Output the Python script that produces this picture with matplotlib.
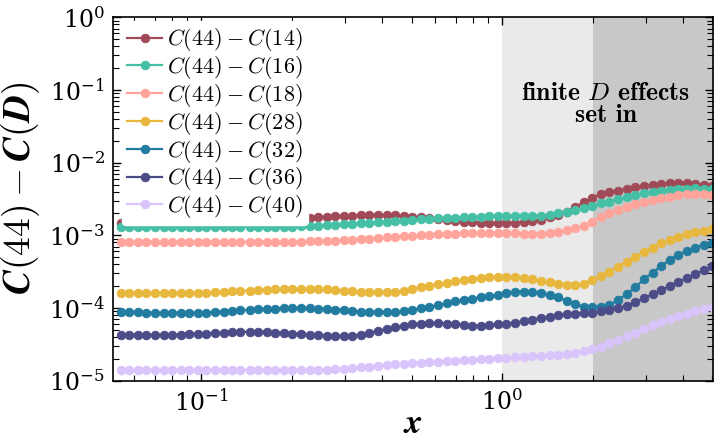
import numpy as np
import matplotlib
matplotlib.use('Agg')
import matplotlib.pyplot as plt
from matplotlib.font_manager import FontProperties
from matplotlib.mathtext import MathTextParser

plt.rcParams['mathtext.fontset'] = 'cm'
plt.rcParams['font.family'] = ['DejaVu Serif']

x_vals = [0.0540, 0.0577, 0.0616, 0.0657, 0.0702, 0.0750, 0.0800, 0.0855, 0.0913, 0.0975,
          0.104, 0.111, 0.119, 0.127, 0.135, 0.145, 0.154, 0.165, 0.176, 0.188,
          0.201, 0.214, 0.229, 0.244, 0.261, 0.279, 0.297, 0.318, 0.339, 0.362,
          0.387, 0.413, 0.441, 0.471, 0.503, 0.537, 0.573, 0.612, 0.654, 0.698,
          0.745, 0.796, 0.850, 0.907, 0.969, 1.03, 1.10, 1.18, 1.26, 1.35,
          1.44, 1.53, 1.64, 1.75, 1.87, 1.99, 2.13, 2.27, 2.43, 2.59,
          2.77, 2.96, 3.16, 3.37, 3.60, 3.84, 4.10, 4.38, 4.68, 5.00]

c14 = [1.50e-3, 1.51e-3, 1.52e-3, 1.53e-3, 1.54e-3, 1.55e-3, 1.56e-3, 1.57e-3, 1.58e-3, 1.59e-3,
       1.60e-3, 1.61e-3, 1.62e-3, 1.63e-3, 1.64e-3, 1.65e-3, 1.66e-3, 1.67e-3, 1.68e-3, 1.70e-3,
       1.71e-3, 1.72e-3, 1.74e-3, 1.76e-3, 1.79e-3, 1.82e-3, 1.85e-3, 1.87e-3, 1.89e-3, 1.90e-3,
       1.91e-3, 1.90e-3, 1.88e-3, 1.85e-3, 1.81e-3, 1.76e-3, 1.72e-3, 1.67e-3, 1.62e-3, 1.58e-3,
       1.55e-3, 1.52e-3, 1.50e-3, 1.48e-3, 1.47e-3, 1.47e-3, 1.49e-3, 1.52e-3, 1.56e-3, 1.65e-3,
       1.78e-3, 1.93e-3, 2.12e-3, 2.45e-3, 2.85e-3, 3.30e-3, 3.65e-3, 3.92e-3, 4.12e-3, 4.39e-3,
       4.68e-3, 4.78e-3, 4.94e-3, 5.09e-3, 5.21e-3, 5.21e-3, 5.21e-3, 5.09e-3, 4.94e-3, 4.78e-3]

c16 = [1.31e-3, 1.31e-3, 1.31e-3, 1.31e-3, 1.31e-3, 1.31e-3, 1.31e-3, 1.31e-3, 1.31e-3, 1.31e-3,
       1.31e-3, 1.31e-3, 1.31e-3, 1.31e-3, 1.31e-3, 1.31e-3, 1.31e-3, 1.31e-3, 1.31e-3, 1.31e-3,
       1.32e-3, 1.33e-3, 1.34e-3, 1.36e-3, 1.37e-3, 1.39e-3, 1.41e-3, 1.44e-3, 1.46e-3, 1.48e-3,
       1.51e-3, 1.54e-3, 1.57e-3, 1.60e-3, 1.63e-3, 1.66e-3, 1.69e-3, 1.71e-3, 1.73e-3, 1.75e-3,
       1.77e-3, 1.79e-3, 1.81e-3, 1.83e-3, 1.84e-3, 1.85e-3, 1.85e-3, 1.85e-3, 1.85e-3, 1.87e-3,
       1.91e-3, 2.00e-3, 2.12e-3, 2.24e-3, 2.36e-3, 2.56e-3, 2.77e-3, 2.91e-3, 3.14e-3, 3.34e-3,
       3.60e-3, 3.79e-3, 3.92e-3, 4.12e-3, 4.21e-3, 4.31e-3, 4.39e-3, 4.44e-3, 4.39e-3, 4.31e-3]

c18 = [8.05e-4, 8.10e-4, 8.10e-4, 8.10e-4, 8.10e-4, 8.10e-4, 8.10e-4, 8.10e-4, 8.10e-4, 8.10e-4,
       8.10e-4, 8.15e-4, 8.15e-4, 8.15e-4, 8.15e-4, 8.15e-4, 8.15e-4, 8.15e-4, 8.15e-4, 8.15e-4,
       8.15e-4, 8.20e-4, 8.25e-4, 8.30e-4, 8.35e-4, 8.45e-4, 8.55e-4, 8.65e-4, 8.80e-4, 8.95e-4,
       9.15e-4, 9.35e-4, 9.55e-4, 9.70e-4, 9.85e-4, 1.00e-3, 1.015e-3, 1.03e-3, 1.045e-3, 1.06e-3,
       1.08e-3, 1.085e-3, 1.09e-3, 1.09e-3, 1.09e-3, 1.08e-3, 1.07e-3, 1.055e-3, 1.05e-3, 1.06e-3,
       1.08e-3, 1.12e-3, 1.18e-3, 1.26e-3, 1.35e-3, 1.55e-3, 1.80e-3, 2.00e-3, 2.23e-3, 2.48e-3,
       2.68e-3, 2.91e-3, 3.07e-3, 3.30e-3, 3.41e-3, 3.60e-3, 3.68e-3, 3.68e-3, 3.68e-3, 3.60e-3]

c28 = [1.63e-4, 1.62e-4, 1.62e-4, 1.61e-4, 1.61e-4, 1.61e-4, 1.61e-4, 1.61e-4, 1.62e-4, 1.62e-4,
       1.63e-4, 1.65e-4, 1.67e-4, 1.69e-4, 1.71e-4, 1.74e-4, 1.76e-4, 1.78e-4, 1.80e-4, 1.82e-4,
       1.83e-4, 1.83e-4, 1.82e-4, 1.81e-4, 1.80e-4, 1.77e-4, 1.73e-4, 1.70e-4, 1.67e-4, 1.65e-4,
       1.65e-4, 1.65e-4, 1.68e-4, 1.74e-4, 1.82e-4, 1.92e-4, 2.03e-4, 2.13e-4, 2.23e-4, 2.33e-4,
       2.43e-4, 2.52e-4, 2.59e-4, 2.64e-4, 2.66e-4, 2.66e-4, 2.64e-4, 2.58e-4, 2.48e-4, 2.36e-4,
       2.25e-4, 2.16e-4, 2.10e-4, 2.08e-4, 2.15e-4, 2.40e-4, 2.75e-4, 3.17e-4, 3.71e-4, 4.35e-4,
       5.09e-4, 5.97e-4, 6.77e-4, 7.78e-4, 8.65e-4, 9.60e-4, 1.05e-3, 1.10e-3, 1.16e-3, 1.21e-3]

c32 = [8.83e-5, 8.78e-5, 8.72e-5, 8.66e-5, 8.60e-5, 8.57e-5, 8.57e-5, 8.58e-5, 8.60e-5, 8.63e-5,
       8.66e-5, 8.80e-5, 8.95e-5, 9.10e-5, 9.25e-5, 9.45e-5, 9.60e-5, 9.72e-5, 9.82e-5, 9.90e-5,
       9.93e-5, 9.90e-5, 9.85e-5, 9.80e-5, 9.70e-5, 9.50e-5, 9.30e-5, 9.10e-5, 8.95e-5, 8.85e-5,
       8.75e-5, 8.75e-5, 8.85e-5, 9.10e-5, 9.50e-5, 9.95e-5, 1.04e-4, 1.09e-4, 1.16e-4, 1.23e-4,
       1.29e-4, 1.35e-4, 1.41e-4, 1.47e-4, 1.53e-4, 1.59e-4, 1.65e-4, 1.68e-4, 1.66e-4, 1.62e-4,
       1.53e-4, 1.41e-4, 1.26e-4, 1.14e-4, 1.04e-4, 1.03e-4, 1.03e-4, 1.10e-4, 1.29e-4, 1.56e-4,
       1.93e-4, 2.49e-4, 3.07e-4, 3.79e-4, 4.59e-4, 5.38e-4, 6.10e-4, 6.77e-4, 7.38e-4, 7.94e-4]

c36 = [4.32e-5, 4.30e-5, 4.28e-5, 4.25e-5, 4.22e-5, 4.22e-5, 4.25e-5, 4.30e-5, 4.36e-5, 4.42e-5,
       4.46e-5, 4.52e-5, 4.58e-5, 4.64e-5, 4.69e-5, 4.70e-5, 4.69e-5, 4.64e-5, 4.58e-5, 4.52e-5,
       4.46e-5, 4.38e-5, 4.30e-5, 4.22e-5, 4.15e-5, 4.10e-5, 4.08e-5, 4.15e-5, 4.30e-5, 4.55e-5,
       4.85e-5, 5.10e-5, 5.40e-5, 5.70e-5, 5.95e-5, 6.10e-5, 6.15e-5, 6.15e-5, 6.10e-5, 5.95e-5,
       5.82e-5, 5.70e-5, 5.68e-5, 5.80e-5, 5.95e-5, 6.10e-5, 6.30e-5, 6.60e-5, 6.95e-5, 7.30e-5,
       7.60e-5, 7.90e-5, 8.15e-5, 8.40e-5, 8.55e-5, 8.67e-5, 9.00e-5, 9.50e-5, 1.00e-4, 1.06e-4,
       1.20e-4, 1.36e-4, 1.55e-4, 1.76e-4, 2.00e-4, 2.27e-4, 2.57e-4, 2.92e-4, 3.31e-4, 3.76e-4]

c40 = [1.40e-5, 1.40e-5, 1.40e-5, 1.40e-5, 1.40e-5, 1.40e-5, 1.40e-5, 1.40e-5, 1.40e-5, 1.40e-5,
       1.40e-5, 1.40e-5, 1.40e-5, 1.40e-5, 1.40e-5, 1.40e-5, 1.40e-5, 1.40e-5, 1.40e-5, 1.40e-5,
       1.40e-5, 1.40e-5, 1.40e-5, 1.41e-5, 1.42e-5, 1.43e-5, 1.45e-5, 1.48e-5, 1.52e-5, 1.56e-5,
       1.60e-5, 1.64e-5, 1.68e-5, 1.71e-5, 1.74e-5, 1.77e-5, 1.80e-5, 1.83e-5, 1.86e-5, 1.89e-5,
       1.92e-5, 1.95e-5, 1.98e-5, 2.01e-5, 2.04e-5, 2.07e-5, 2.10e-5, 2.13e-5, 2.16e-5, 2.20e-5,
       2.24e-5, 2.29e-5, 2.35e-5, 2.43e-5, 2.54e-5, 2.75e-5, 2.95e-5, 3.25e-5, 3.60e-5, 4.10e-5,
       4.55e-5, 5.20e-5, 5.75e-5, 6.45e-5, 7.10e-5, 7.75e-5, 8.40e-5, 9.05e-5, 9.60e-5, 1.02e-4]

series = [c14, c16, c18, c28, c32, c36, c40]
labels = [r'$C(44)-C(14)$', r'$C(44)-C(16)$', r'$C(44)-C(18)$', r'$C(44)-C(28)$',
          r'$C(44)-C(32)$', r'$C(44)-C(36)$', r'$C(44)-C(40)$']
colors = ['#a04a57', '#45bfa5', '#ffa49b', '#e8b83e', '#227ca0', '#4c4c88', '#d9c4fb']

regions = [(1.0, 2.0), (2.0, 6.0)]
region_colors = ['#eaeaea', '#c8c8c8']


def bold_math(s):
    for fs in ['cm', 'stix', 'dejavuserif']:
        for cmd in [r'\boldsymbol', r'\mathbfit']:
            txt = r'$%s{%s}$' % (cmd, s)
            try:
                MathTextParser('path').parse(txt, 72, FontProperties(math_fontfamily=fs))
                return txt, fs
            except Exception:
                pass
    return r'$\mathbf{%s}$' % s, 'cm'


fig = plt.figure(figsize=(7.16, 4.41), dpi=100)
ax = fig.add_axes([113 / 716, (441 - 380.7) / 441, 600 / 716, 363.4 / 441])

for (a, b), c in zip(regions, region_colors):
    ax.axvspan(a, b, color=c, lw=0, zorder=0)

for vals, lab, col in zip(series, labels, colors):
    ax.plot(x_vals, vals, '-o', color=col, ms=6.2, mew=0.6, lw=1.6, label=lab, zorder=2)

ax.set_xscale('log')
ax.set_yscale('log')
ax.set_xlim(0.0509, 5.02)
ax.set_ylim(1e-5, 1)

ax.tick_params(which='both', direction='in', top=True, right=True, labelsize=17, pad=6, width=1.0)
ax.tick_params(which='major', length=6)
ax.tick_params(which='minor', length=4, width=0.8)
for sp in ax.spines.values():
    sp.set_linewidth(1.2)

ylab, yfs = bold_math('C(44)-C(D)')
xlab, xfs = bold_math('x')
ax.set_ylabel(ylab, fontsize=27, math_fontfamily=yfs)
ax.yaxis.set_label_coords(-0.118, 0.53)
ax.set_xlabel(xlab, fontsize=25, math_fontfamily=xfs, va='baseline')
ax.xaxis.set_label_coords(0.5, -0.143)

ax.text(2.21, 0.064, 'finite $D$ effects\nset in', ha='center', va='center', fontsize=18.5,
        family=['cmb10', 'DejaVu Serif'], linespacing=0.95, zorder=3)

leg = ax.legend(loc='upper left', bbox_to_anchor=(9 / 600, 1 - 4 / 363.4), fontsize=16,
                frameon=True, fancybox=True, framealpha=1, edgecolor='white', facecolor='white',
                borderaxespad=0.0, borderpad=0.23, handlelength=1.58, handletextpad=0.22,
                labelspacing=0.036)

fig.savefig('out.png', dpi=100)
